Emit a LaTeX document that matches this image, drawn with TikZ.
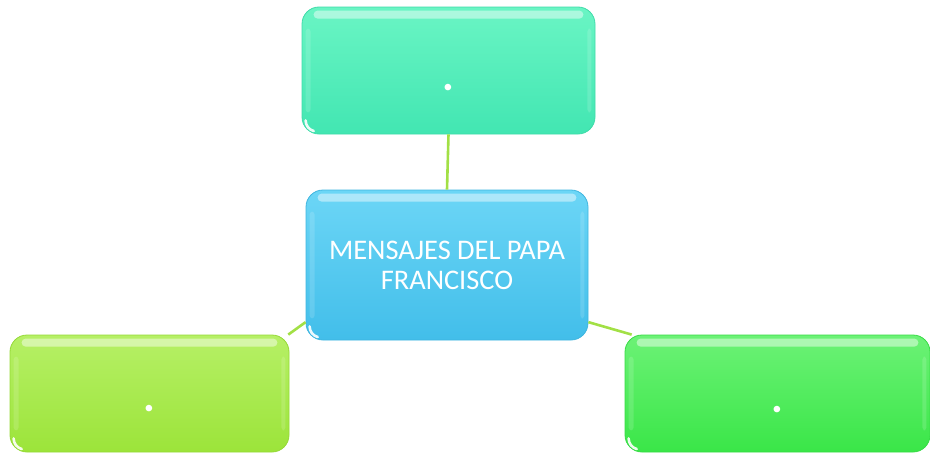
\documentclass[tikz,border=0pt]{standalone}
\usepackage{fontspec}
\setmainfont{Carlito}
\usetikzlibrary{calc}
\definecolor{linkc}{HTML}{A2E045}
\definecolor{topA}{HTML}{6AF5C4}
\definecolor{topB}{HTML}{42E6B2}
\definecolor{midA}{HTML}{6CD6F6}
\definecolor{midB}{HTML}{42BEEA}
\definecolor{lefA}{HTML}{B6F066}
\definecolor{lefB}{HTML}{9CE43A}
\definecolor{rigA}{HTML}{6CF276}
\definecolor{rigB}{HTML}{3AE648}
\tikzset{
  gbox/.style={rectangle, rounded corners=17pt, inner sep=0pt, align=center,
    text=white, font=\fontsize{28.4}{30}\selectfont},
  link/.style={draw=linkc, line width=2.6pt},
  dotlabel/.style={text=white, inner sep=0pt, font=\fontsize{44}{44}\bfseries\selectfont},
}
\newcommand\glossbox[8]{%
  \node[gbox, minimum width=#4pt, minimum height=#5pt, top color=#6, bottom color=#7,
        draw=#7!92!black!60!#7, line width=0.8pt] (#1) at (#2pt,-#3pt) {#8};
  \fill[white, opacity=0.45, rounded corners=4pt]
    ($(#1.north west)+(12pt,-4pt)$) rectangle ($(#1.north east)+(-12pt,-12pt)$);
  \fill[white, opacity=0.14, rounded corners=3pt]
    ($(#1.north west)+(4pt,-22pt)$) rectangle ($(#1.south west)+(9pt,22pt)$);
  \fill[white, opacity=0.14, rounded corners=3pt]
    ($(#1.north east)+(-4pt,-22pt)$) rectangle ($(#1.south east)+(-8pt,22pt)$);
  \draw[white, opacity=0.9, line width=2.6pt, line cap=round]
    ($(#1.south west)+(4pt,14pt)$) arc[start angle=180, end angle=255, radius=11pt];
}
\begin{document}
\begin{tikzpicture}
\useasboundingbox (0,0) rectangle (930pt,-455pt);
\glossbox{top}{448.5}{70.5}{293}{127}{topA}{topB}{}
\glossbox{mid}{447}{265}{282}{150}{midA}{midB}{MENSAJES DEL PAPA\\FRANCISCO}
\glossbox{lft}{149.5}{393.5}{279}{117}{lefA}{lefB}{}
\glossbox{rgt}{777.5}{393.5}{305}{117}{rigA}{rigB}{}
\node[dotlabel] (topdot) at ($(top)+(0,-17.5pt)$) {.};
\node[dotlabel] (lftdot) at ($(lft)+(0,-15.5pt)$) {.};
\node[dotlabel] (rgtdot) at ($(rgt)+(0,-16.5pt)$) {.};
\draw[link] (top.south) -- (mid.north);
\draw[link] (mid.202) -- (lft.23.5);
\draw[link] (mid.338.7) -- (rgt.158.6);
\end{tikzpicture}
\end{document}
